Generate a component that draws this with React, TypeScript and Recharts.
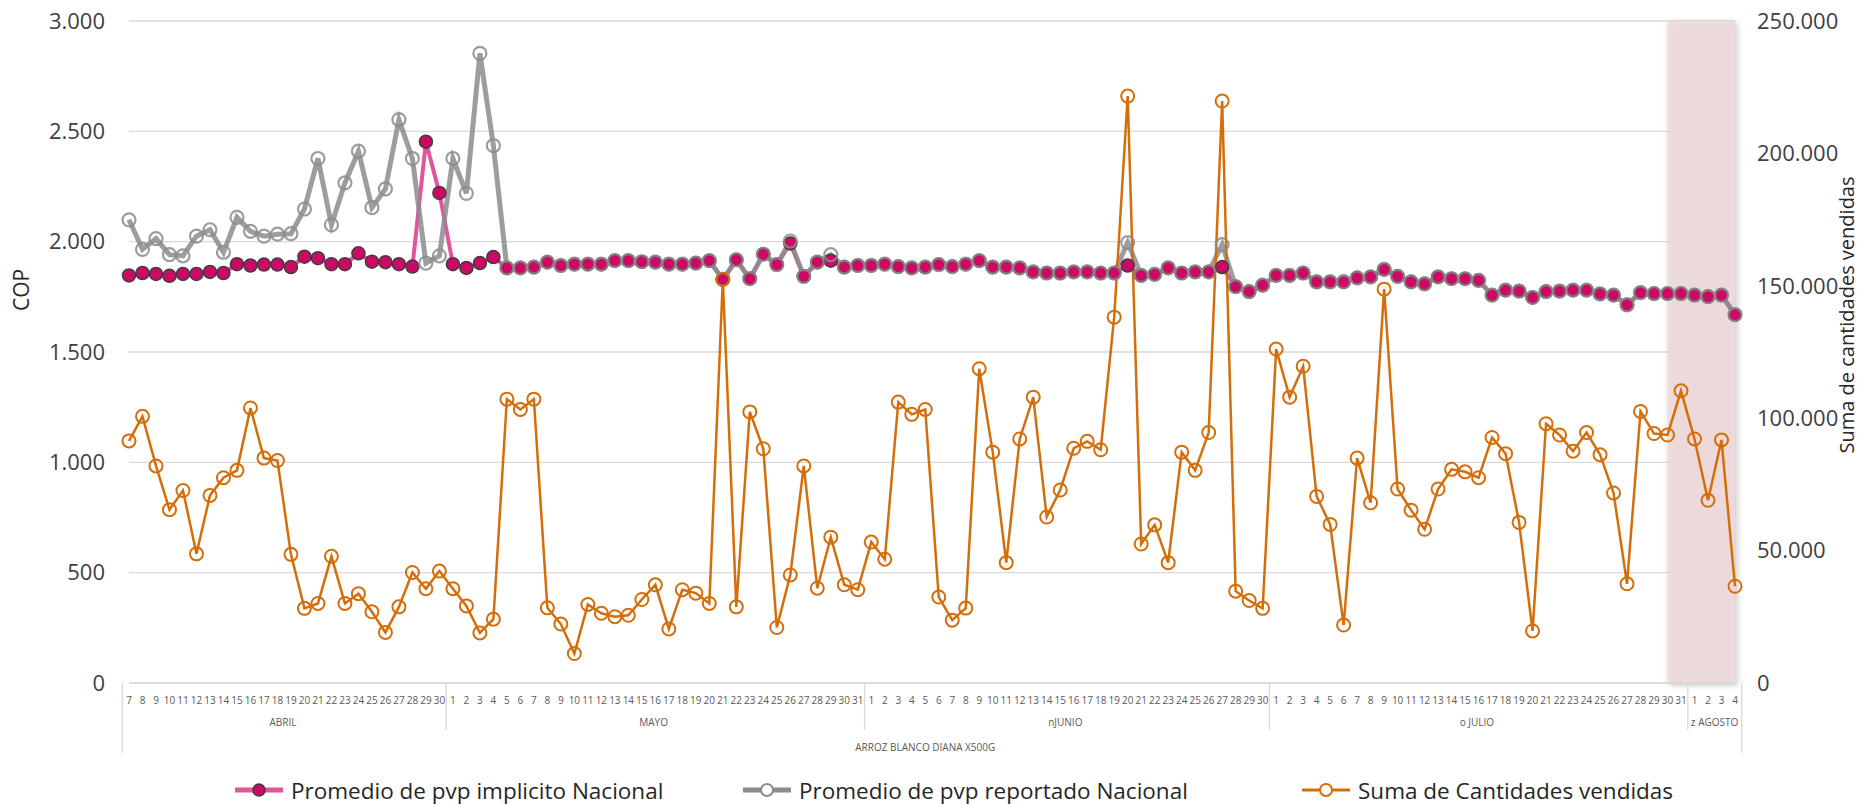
import React from 'react';
import { ComposedChart, Line, XAxis, YAxis, CartesianGrid, Legend, ReferenceArea } from 'recharts';

// ---------- Data ----------
const producto = 'ARROZ BLANCO DIANA X500G';
const meses = ['ABRIL', 'MAYO', 'nJUNIO', 'o JULIO', 'z AGOSTO'];

const diasAbril = [7, 8, 9, 10, 11, 12, 13, 14, 15, 16, 17, 18, 19, 20, 21, 22, 23, 24, 25, 26, 27, 28, 29, 30];
const diasMayo = [1, 2, 3, 4, 5, 6, 7, 8, 9, 10, 11, 12, 13, 14, 15, 16, 17, 18, 19, 20, 21, 22, 23, 24, 25, 26, 27, 28, 29, 30, 31];
const diasJunio = [1, 2, 3, 4, 5, 6, 7, 8, 9, 10, 11, 12, 13, 14, 15, 16, 17, 18, 19, 20, 21, 22, 23, 24, 25, 26, 27, 28, 29, 30];
const diasJulio = [1, 2, 3, 4, 5, 6, 7, 8, 9, 10, 11, 12, 13, 14, 15, 16, 17, 18, 19, 20, 21, 22, 23, 24, 25, 26, 27, 28, 29, 30, 31];
const diasAgosto = [1, 2, 3, 4];
const diasPorMes = [diasAbril, diasMayo, diasJunio, diasJulio, diasAgosto];

const pvpImplicito = [
  // abril
  1847, 1858, 1854, 1845, 1854, 1854, 1863, 1858, 1898, 1892, 1896, 1896, 1885, 1932, 1925, 1898, 1898, 1947, 1909, 1907, 1898, 1887, 2453, 2221,
  // mayo
  1898, 1881, 1903, 1930, 1881, 1881, 1885, 1907, 1892, 1898, 1898, 1898, 1914, 1914, 1909, 1907, 1898, 1898, 1903, 1914, 1829, 1918, 1832, 1943, 1896, 1992, 1843, 1907, 1914, 1885, 1892,
  // junio
  1892, 1898, 1887, 1881, 1885, 1896, 1887, 1898, 1914, 1885, 1885, 1881, 1863, 1858, 1858, 1863, 1863, 1858, 1858, 1892, 1847, 1852, 1881, 1858, 1863, 1863, 1885, 1796, 1774, 1803,
  // julio
  1847, 1847, 1858, 1818, 1818, 1818, 1836, 1840, 1874, 1843, 1818, 1809, 1840, 1832, 1832, 1825, 1758, 1780, 1776, 1747, 1774, 1776, 1780, 1780, 1763, 1758, 1714, 1769, 1765, 1765, 1765,
  // agosto
  1758, 1751, 1758, 1669,
];

const pvpReportado = [
  // abril
  2099, 1965, 2014, 1941, 1936, 2025, 2054, 1952, 2110, 2047, 2025, 2034, 2036, 2148, 2377, 2076, 2266, 2410, 2154, 2239, 2553, 2377, 1903, 1936,
  // mayo
  2377, 2219, 2853, 2435, 1881, 1881, 1885, 1907, 1892, 1898, 1898, 1898, 1914, 1914, 1909, 1907, 1898, 1898, 1903, 1914, 1829, 1918, 1832, 1943, 1896, 2003, 1843, 1907, 1941, 1885, 1892,
  // junio
  1892, 1898, 1887, 1881, 1885, 1896, 1887, 1898, 1914, 1885, 1885, 1881, 1863, 1858, 1858, 1863, 1863, 1858, 1858, 1996, 1847, 1852, 1881, 1858, 1863, 1863, 1987, 1796, 1774, 1803,
  // julio
  1847, 1847, 1858, 1818, 1818, 1818, 1836, 1840, 1874, 1843, 1818, 1809, 1840, 1832, 1832, 1825, 1758, 1780, 1776, 1747, 1774, 1776, 1780, 1780, 1763, 1758, 1714, 1769, 1765, 1765, 1765,
  // agosto
  1758, 1751, 1758, 1669,
];

const cantidades = [
  // abril
  91430, 100700, 81970, 65470, 72700, 48780, 70850, 77520, 80300, 103860, 84940, 84010, 48590, 28190, 30040, 47850, 30040, 33750, 26890, 19100, 28750, 41730, 35610, 42280,
  // mayo
  35610, 29120, 18920, 24110, 107200, 103300, 107200, 28380, 22260, 11130, 29670, 26340, 25040, 25590, 31530, 37090, 20400, 35240, 33940, 30040, 152450, 28750, 102370, 88460, 20960, 40800, 81970, 35790, 55080, 37090, 35240,
  // junio
  53230, 46740, 106080, 101450, 103300, 32460, 23740, 28280, 118690, 87170, 45440, 92170, 107940, 62690, 72890, 88650, 91250, 88090, 138170, 221630, 52490, 59720, 45440, 87170, 80300, 94580, 219770, 34680, 31160, 28190,
  // julio
  126110, 107940, 119620, 70470, 59900, 21880, 84940, 68060, 148740, 73260, 65280, 58050, 73260, 80680, 79750, 77520, 92730, 86610, 60640, 19650, 97920, 93660, 87540, 94580, 86240, 71770, 37460, 102560, 94210, 93660, 110350,
  // agosto
  92170, 68990, 91800, 36540,
];

const ticksCOP = [0, 500, 1000, 1500, 2000, 2500, 3000];
const ticksCantidad = [0, 50000, 100000, 150000, 200000, 250000];
const seriesNombres = ['Promedio de pvp implicito Nacional', 'Promedio de pvp reportado Nacional', 'Suma de Cantidades vendidas'];

// ---------- Build table ----------
type Row = { key: string; dia: number; mes: string; primero: boolean; cuenta: number; implicito: number; reportado: number; cantidad: number };
const data: Row[] = [];
diasPorMes.forEach((dias, mi) => {
  dias.forEach((d, di) => {
    const i = data.length;
    data.push({
      key: `${meses[mi]}-${d}`,
      dia: d,
      mes: meses[mi],
      primero: di === 0,
      cuenta: dias.length,
      implicito: pvpImplicito[i],
      reportado: pvpReportado[i],
      cantidad: cantidades[i],
    });
  });
});
// shaded band: last week (31 julio - 4 agosto); recharts maps x1 to the end of that band
const bandaInicio = data[data.length - 6].key;
const bandaFin = data[data.length - 1].key;

// ---------- Layout ----------
const FONT = '"Open Sans", "Noto Sans", sans-serif';
const W = 1864;
const H = 805;
const Y_W = 129;
const TOP = 21;
const X_H = 80;
const LEG_H = 42;
const PLOT_W = W - 2 * Y_W;
const N = data.length;
const STEP = PLOT_W / N;

const PINK_LINE = '#e0559e';
const PINK_DOT = '#cc0a66';
const GRAY = '#8c8c8c';
const ORANGE = '#d46e0a';
const GRID = '#d9d9d9';
const TEXT = '#404040';

const fmt = (v: number) => v.toLocaleString('de-DE');

function DayTick(props: any) {
  const { x, y, index } = props;
  const c = data[index];
  if (!c) return null;
  const out: any[] = [];
  out.push(
    <text key="d" x={x} y={y + 17} textAnchor="middle" dominantBaseline="central" fontSize={10} fill="#595959" fontFamily={FONT}>
      {c.dia}
    </text>
  );
  if (c.primero) {
    const left = x - STEP / 2;
    if (index > 0) out.push(<line key="s" x1={left} x2={left} y1={y} y2={y + 47} stroke={GRID} strokeWidth={1.3} />);
    out.push(
      <text key="m" x={x + ((c.cuenta - 1) * STEP) / 2} y={y + 39} textAnchor="middle" dominantBaseline="central" fontSize={10} fill="#595959" fontFamily={FONT}>
        {c.mes}
      </text>
    );
  }
  if (index === 0) {
    const left = x - STEP / 2;
    out.push(<line key="l" x1={left} x2={left} y1={y} y2={y + 70} stroke={GRID} strokeWidth={1.3} />);
    out.push(
      <text key="p" x={x + ((N - 1) * STEP) / 2} y={y + 64} textAnchor="middle" dominantBaseline="central" fontSize={10} fill="#595959" fontFamily={FONT}>
        {producto}
      </text>
    );
  }
  if (index === N - 1) {
    const right = x + STEP / 2;
    out.push(<line key="r" x1={right} x2={right} y1={y} y2={y + 70} stroke={GRID} strokeWidth={1.3} />);
  }
  return <g>{out}</g>;
}

const LegendIcon = ({ kind }: { kind: number }) => {
  if (kind === 0)
    return (
      <svg width={48} height={24}>
        <line x1={0} x2={48} y1={12} y2={12} stroke={PINK_LINE} strokeWidth={5} />
        <circle cx={24} cy={12} r={6} fill={PINK_DOT} stroke="#3f3f3f" strokeWidth={1.5} />
      </svg>
    );
  if (kind === 1)
    return (
      <svg width={48} height={24}>
        <line x1={0} x2={48} y1={12} y2={12} stroke={GRAY} strokeWidth={5} />
        <circle cx={24} cy={12} r={6} fill="#fff" stroke={GRAY} strokeWidth={2} />
      </svg>
    );
  return (
    <svg width={48} height={24}>
      <line x1={0} x2={48} y1={12} y2={12} stroke={ORANGE} strokeWidth={3} />
      <circle cx={24} cy={12} r={6} fill="#fff" stroke={ORANGE} strokeWidth={2} />
    </svg>
  );
};

const itemWidths = [508, 559, 480];
const LegendContent = () => (
  <div
    style={{
      height: LEG_H,
      paddingTop: 12,
      paddingLeft: 235,
      boxSizing: 'border-box',
      display: 'flex',
      justifyContent: 'flex-start',
      alignItems: 'center',
      fontFamily: FONT,
      fontSize: 22.5,
      color: '#262626',
      whiteSpace: 'nowrap',
    }}
  >
    {seriesNombres.map((n, i) => (
      <div key={n} style={{ display: 'flex', alignItems: 'center', width: itemWidths[i], flex: 'none' }}>
        <LegendIcon kind={i} />
        <span style={{ marginLeft: 8 }}>{n}</span>
      </div>
    ))}
  </div>
);

const tituloIzq = () => (
  <text x={21} y={290} transform="rotate(-90 21 290)" textAnchor="middle" dominantBaseline="central" fontSize={21} fill="#262626" fontFamily={FONT}>
    COP
  </text>
);
const tituloDer = () => (
  <text x={1846} y={315} transform="rotate(-90 1846 315)" textAnchor="middle" dominantBaseline="central" fontSize={20} fill="#262626" fontFamily={FONT}>
    Suma de cantidades vendidas
  </text>
);

export default function App() {
  return (
    <div style={{ position: 'absolute', left: 0, top: 0, width: W, height: H, background: '#fff', fontFamily: FONT }}>
      <ComposedChart width={W} height={H} data={data} margin={{ top: TOP, right: 0, bottom: 0, left: 0 }}>
        <CartesianGrid yAxisId="left" vertical={false} stroke={GRID} strokeWidth={1.3} />
        <XAxis
          dataKey="key"
          interval={0}
          tickLine={false}
          tickSize={0}
          tickMargin={0}
          axisLine={{ stroke: GRID, strokeWidth: 1.3 }}
          height={X_H}
          tick={DayTick}
        />
        <YAxis
          yAxisId="left"
          orientation="left"
          width={Y_W}
          domain={[0, 3000]}
          ticks={ticksCOP}
          tickFormatter={fmt}
          axisLine={false}
          tickLine={false}
          tickMargin={18}
          tick={{ fontSize: 22, fill: TEXT, fontFamily: FONT }}
          label={{ value: 'COP', content: tituloIzq }}
        />
        <YAxis
          yAxisId="right"
          orientation="right"
          width={Y_W}
          domain={[0, 250000]}
          ticks={ticksCantidad}
          tickFormatter={fmt}
          axisLine={false}
          tickLine={false}
          tickMargin={16}
          tick={{ fontSize: 22, fill: TEXT, fontFamily: FONT, textAnchor: 'start' }}
          label={{ value: 'Suma de cantidades vendidas', content: tituloDer }}
        />
        <ReferenceArea
          yAxisId="left"
          x1={bandaInicio}
          x2={bandaFin}
          y1={0}
          y2={3000}
          fill="#efdbdb"
          fillOpacity={0.9}
          stroke="none"
          style={{ filter: 'drop-shadow(2px 2px 3px rgba(0,0,0,0.25))' }}
        />
        <Line
          yAxisId="left"
          dataKey="implicito"
          name={seriesNombres[0]}
          stroke={PINK_LINE}
          strokeWidth={4}
          dot={{ r: 6.5, fill: PINK_DOT, stroke: '#3f3f3f', strokeWidth: 1.5 }}
          activeDot={false}
          isAnimationActive={false}
        />
        <Line
          yAxisId="left"
          dataKey="reportado"
          name={seriesNombres[1]}
          stroke={GRAY}
          strokeOpacity={0.85}
          strokeWidth={5}
          dot={{ r: 6.5, fill: 'none', stroke: GRAY, strokeWidth: 2.2 }}
          activeDot={false}
          isAnimationActive={false}
        />
        <Line
          yAxisId="right"
          dataKey="cantidad"
          name={seriesNombres[2]}
          stroke={ORANGE}
          strokeWidth={2.5}
          dot={{ r: 6.5, fill: 'none', stroke: ORANGE, strokeWidth: 2 }}
          activeDot={false}
          isAnimationActive={false}
        />
        <Legend verticalAlign="bottom" align="center" content={LegendContent} wrapperStyle={{ left: 0, width: W, height: LEG_H }} />
      </ComposedChart>
    </div>
  );
}
